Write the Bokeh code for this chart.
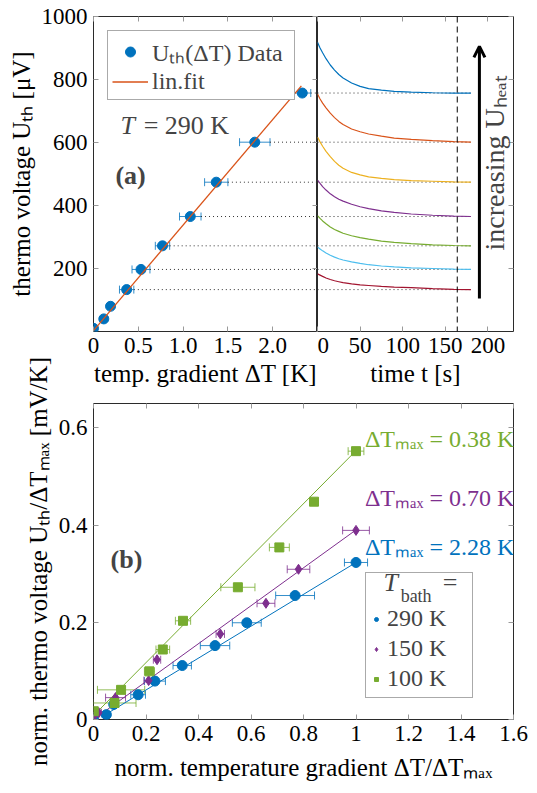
import numpy as np
from bokeh.plotting import figure
from bokeh.models import (ColumnDataSource, Whisker, TeeHead, Legend, LegendItem, Label,
                          Span, Arrow, OpenHead, LinearAxis, FixedTicker, Range1d)
from bokeh.layouts import column, row
from bokeh.embed import file_html
from bokeh.resources import INLINE

FONT = "Liberation Serif"
FS_TICK = "23px"
FS_LAB = "25px"
FS_TXT = "24px"
C_BLUE = "#0072BD"
C_ORANGE = "#D95319"
C_YELLOW = "#EDB120"
C_PURPLE = "#7E2F8E"
C_GREEN = "#77AC30"
C_LBLUE = "#4DBEEE"
C_RED = "#A2142F"
TICK_C = "#9a9a9a"
FRAME_C = "#2b2b2b"

# ---------------- panel (a), left: U_th vs dT ----------------
dT = [0.0, 0.115, 0.19, 0.37, 0.53, 0.77, 1.08, 1.37, 1.80, 2.33]
U = [10, 40, 80, 133, 197, 272, 365, 474, 601, 757]
dT_err = [0.0, 0.0, 0.0, 0.08, 0.10, 0.08, 0.12, 0.13, 0.17, 0.095]
fit_dT = [0.0, 2.32]
fit_U = [3, 780]
a_xticks = [0, 0.5, 1.0, 1.5, 2.0]
a_xlabels = ["0", "0.5", "1.0", "1.5", "2.0"]
a_yticks = [200, 400, 600, 800, 1000]

# ---------------- panel (a), right: U_th vs time ----------------
t_s = [0, 3, 6, 10, 15, 20, 25, 30, 40, 50, 60, 75, 90, 110, 135, 160, 180]
u_blue = [918, 900, 885, 866, 846, 830, 816, 805, 789, 778, 771, 766, 762, 760, 758, 757, 757]
u_orange = [754, 738, 725, 710, 693, 679, 667, 657, 643, 634, 627, 620, 614, 610, 606, 603, 601]
u_yellow = [617, 602, 588, 572, 555, 540, 528, 518, 505, 497, 491, 486, 482, 479, 477, 475, 474]
u_purple = [481, 470, 460, 449, 437, 428, 420, 414, 404, 396, 390, 383, 378, 373, 369, 366, 365]
u_green = [368, 359, 351, 342, 332, 324, 318, 312, 304, 298, 293, 287, 283, 279, 275, 273, 272]
u_lblue = [268, 262, 256, 249, 242, 236, 231, 227, 221, 216, 212, 208, 205, 202, 200, 198, 197]
u_red = [183, 179, 175, 170, 165, 161, 158, 155, 151, 148, 146, 143, 141, 139, 136, 134, 133]
b_xticks = [0, 50, 100, 150, 200]
t_steady = 164

# ---------------- panel (b) ----------------
x290 = [0.0, 0.049, 0.077, 0.17, 0.234, 0.338, 0.463, 0.584, 0.768, 1.0]
y290 = [0.004, 0.010, 0.031, 0.051, 0.079, 0.111, 0.152, 0.199, 0.255, 0.323]
e290 = [0.0, 0.0, 0.0, 0.028, 0.04, 0.035, 0.056, 0.055, 0.074, 0.044]
x150 = [0.0, 0.02, 0.084, 0.21, 0.242, 0.483, 0.657, 0.781, 1.0]
y150 = [0.005, 0.014, 0.045, 0.08, 0.123, 0.176, 0.239, 0.309, 0.389]
e150 = [0.0, 0.01, 0.038, 0.018, 0.014, 0.016, 0.034, 0.043, 0.051]
x100 = [0.001, 0.08, 0.105, 0.213, 0.264, 0.341, 0.55, 0.708, 0.84, 1.0]
y100 = [0.017, 0.034, 0.061, 0.099, 0.144, 0.203, 0.272, 0.354, 0.448, 0.552]
e100 = [0.0, 0.082, 0.09, 0.019, 0.026, 0.029, 0.065, 0.038, 0.015, 0.03]
fit_x290 = [0.03, 1.0]
fit_y290 = [0.005, 0.323]
fit_x150 = [0.0, 1.0]
fit_y150 = [0.0, 0.39]
fit_x100 = [0.0, 1.0]
fit_y100 = [0.008, 0.553]
c_xticks = [0, 0.2, 0.4, 0.6, 0.8, 1.0, 1.2, 1.4, 1.6]
c_xlabels = ["0", "0.2", "0.4", "0.6", "0.8", "1", "1.2", "1.4", "1.6"]
c_yticks = [0, 0.2, 0.4, 0.6]
c_ylabels = ["0", "0.2", "0.4", "0.6"]


def style_axis(ax, ticks, labels=None, label_standoff=4):
    ax.ticker = FixedTicker(ticks=ticks)
    if labels is not None:
        ax.major_label_overrides = {t: l for t, l in zip(ticks, labels)}
    ax.axis_line_color = None
    ax.major_tick_in = 5
    ax.major_tick_out = 0
    ax.major_tick_line_color = TICK_C
    ax.minor_tick_line_color = None
    ax.major_label_text_font = FONT
    ax.major_label_text_font_size = FS_TICK
    ax.major_label_text_color = "black"
    ax.major_label_standoff = 6
    ax.axis_label_text_font = FONT
    ax.axis_label_text_font_size = FS_LAB
    ax.axis_label_text_font_style = "normal"
    ax.axis_label_text_color = "black"
    ax.axis_label_standoff = label_standoff


def mirror_axis(p, ticks, side):
    ax = LinearAxis(ticker=FixedTicker(ticks=ticks), axis_line_color=None,
                    major_tick_in=5, major_tick_out=0, major_tick_line_color=TICK_C,
                    minor_tick_line_color=None, major_label_text_font_size="1px",
                    major_label_text_color=None,
                    major_label_overrides={t: "" for t in ticks},
                    major_label_standoff=0, axis_label=None)
    p.add_layout(ax, side)


def base_style(p):
    p.xgrid.visible = False
    p.ygrid.visible = False
    p.outline_line_color = FRAME_C
    p.outline_line_width = 1
    p.background_fill_color = "white"
    p.border_fill_color = "white"


# ======== figure A ========
pA = figure(width=317, height=400, x_range=Range1d(0, 2.5), y_range=Range1d(0, 1000),
            output_backend="svg", toolbar_location=None,
            min_border_left=93, min_border_right=0, min_border_top=16, min_border_bottom=69)
base_style(pA)
style_axis(pA.xaxis[0], a_xticks, a_xlabels)
style_axis(pA.yaxis[0], a_yticks)
pA.xaxis[0].axis_label = "temp. gradient ΔT [K]"
pA.yaxis[0].axis_label = "thermo voltage Uₜₕ [μV]"
mirror_axis(pA, a_xticks, "above")
mirror_axis(pA, a_yticks, "right")

dT_a = np.array(dT)
U_a = np.array(U)
err_a = np.array(dT_err)
lev_idx = np.arange(3, len(dT))
srcA = ColumnDataSource(dict(x=dT_a, y=U_a))
mask = err_a > 0
srcAe = ColumnDataSource(dict(y=U_a[mask], lo=(dT_a - err_a)[mask], hi=(dT_a + err_a)[mask]))

pA.segment(x0=(dT_a + err_a)[lev_idx], y0=U_a[lev_idx], x1=[2.5] * len(lev_idx), y1=U_a[lev_idx],
           line_color="#333333", line_width=1, line_dash="1 3")

wA = Whisker(source=srcAe, base="y", lower="lo", upper="hi", dimension="width",
             line_color=C_BLUE, line_width=1, line_alpha=0.8,
             upper_head=TeeHead(size=8, line_color=C_BLUE, line_width=1, line_alpha=0.8),
             lower_head=TeeHead(size=8, line_color=C_BLUE, line_width=1, line_alpha=0.8))
wA.level = "underlay"
pA.add_layout(wA)
rA_pts = pA.scatter("x", "y", source=srcA, marker="circle", size=10, fill_color=C_BLUE,
                    line_color=C_BLUE)
rA_fit = pA.line(fit_dT, fit_U, line_color=C_ORANGE, line_width=1.3)

legA = Legend(items=[LegendItem(label="Uₜₕ(ΔT) Data", renderers=[rA_pts]),
                     LegendItem(label="lin.fit", renderers=[rA_fit])],
              location="top_left", margin=14, padding=4, spacing=0,
              glyph_width=36, glyph_height=25, label_height=25, label_width=138,
              label_standoff=4,
              label_text_font=FONT, label_text_font_size=FS_TXT,
              border_line_color="#555555", border_line_width=1,
              background_fill_alpha=1)
pA.add_layout(legA)

pA.add_layout(Label(x=0.30, y=654, text="T", text_font=FONT, text_font_size="26px",
                    text_font_style="italic", text_baseline="alphabetic"))
pA.add_layout(Label(x=0.56, y=654, text="= 290 K", text_font=FONT, text_font_size="26px",
                    text_baseline="alphabetic"))
pA.add_layout(Label(x=0.245, y=495, text="(a)", text_font=FONT, text_font_size="26px",
                    text_font_style="bold", text_baseline="middle"))

# ======== figure B ========
pB = figure(width=220, height=400, x_range=Range1d(0, 230), y_range=Range1d(0, 1000),
            output_backend="svg", toolbar_location=None, y_axis_location=None,
            min_border_left=0, min_border_right=24, min_border_top=16, min_border_bottom=69)
base_style(pB)
style_axis(pB.xaxis[0], b_xticks)
pB.xaxis[0].axis_label = "time t [s]"
mirror_axis(pB, b_xticks, "above")
mirror_axis(pB, a_yticks, "right")

pB.segment(x0=[t_s[0]] * len(lev_idx), y0=U_a[lev_idx], x1=[t_s[-1]] * len(lev_idx),
           y1=U_a[lev_idx], line_color="#333333", line_width=1, line_dash="1 3")
for ys, c in [(u_red, C_RED), (u_lblue, C_LBLUE), (u_green, C_GREEN), (u_purple, C_PURPLE),
              (u_yellow, C_YELLOW), (u_orange, C_ORANGE), (u_blue, C_BLUE)]:
    pB.line(t_s, ys, line_color=c, line_width=1.2)

pB.add_layout(Span(location=t_steady, dimension="height", line_color="black",
                   line_width=1, line_dash="6 4"))
pB.add_layout(Arrow(end=OpenHead(size=11, line_width=3, line_color="black"),
                    x_start=190, y_start=105, x_end=190, y_end=905,
                    line_width=3, line_color="black"))
pB.add_layout(Label(x=208, y=535, angle=np.pi / 2, text="increasing Uₕₑₐₜ",
                    text_font=FONT, text_font_size="28px", text_align="center",
                    text_baseline="middle"))

# ======== figure C ========
pC = figure(width=537, height=458, x_range=Range1d(0, 1.6), y_range=Range1d(0, 0.65),
            output_backend="svg", toolbar_location=None,
            min_border_left=93, min_border_right=24, min_border_top=68, min_border_bottom=74)
base_style(pC)
pC.border_fill_color = None
pC.margin = (-65, 0, 0, 0)
style_axis(pC.xaxis[0], c_xticks, c_xlabels, label_standoff=10)
style_axis(pC.yaxis[0], c_yticks, c_ylabels)
pC.xaxis[0].axis_label = "norm. temperature gradient ΔT/ΔTₘₐₓ"
pC.yaxis[0].axis_label = "norm. thermo voltage Uₜₕ/ΔTₘₐₓ [mV/K]"
mirror_axis(pC, c_xticks, "above")
mirror_axis(pC, c_yticks, "right")

series = [(x290, y290, e290, fit_x290, fit_y290, C_BLUE, "circle", 10, "290 K"),
          (x150, y150, e150, fit_x150, fit_y150, C_PURPLE, "diamond", 10, "150 K"),
          (x100, y100, e100, fit_x100, fit_y100, C_GREEN, "square", 9, "100 K")]
items = []
for xs, ys, es, fx, fy, c, mk, sz, lab in series:
    pC.line(fx, fy, line_color=c, line_width=1)
for xs, ys, es, fx, fy, c, mk, sz, lab in series:
    xa, ya, ea = np.array(xs), np.array(ys), np.array(es)
    m = ea > 0
    src_e = ColumnDataSource(dict(y=ya[m], lo=(xa - ea)[m], hi=(xa + ea)[m]))
    w = Whisker(source=src_e, base="y", lower="lo", upper="hi", dimension="width",
                line_color=c, line_width=1, line_alpha=0.8,
                upper_head=TeeHead(size=8, line_color=c, line_width=1, line_alpha=0.8),
                lower_head=TeeHead(size=8, line_color=c, line_width=1, line_alpha=0.8))
    w.level = "underlay"
    pC.add_layout(w)
for xs, ys, es, fx, fy, c, mk, sz, lab in series:
    r = pC.scatter(xs, ys, marker=mk, size=sz, fill_color=c, line_color=c)
    items.append(LegendItem(label=lab, renderers=[r]))

legC = Legend(items=items, location=(272, 21), padding=5, spacing=3,
              glyph_width=10, glyph_height=26, label_height=26, label_width=80,
              label_standoff=6,
              label_text_font=FONT, label_text_font_size=FS_TXT,
              title="\u00a0", title_text_font=FONT, title_text_font_size=FS_TXT,
              title_standoff=0,
              border_line_color="#555555", border_line_width=1,
              background_fill_color="white", background_fill_alpha=0)
pC.add_layout(legC)
pC.add_layout(Label(x=1.105, y=0.251, text="T", text_font=FONT, text_font_size="26px",
                    text_font_style="italic", level="overlay"))
pC.add_layout(Label(x=1.170, y=0.233, text="bath", text_font=FONT, text_font_size="18px",
                    level="overlay"))
pC.add_layout(Label(x=1.33, y=0.251, text="=", text_font=FONT, text_font_size="26px",
                    level="overlay"))

pC.add_layout(Label(x=1.034, y=0.577, text="ΔTₘₐₓ = 0.38 K", text_font=FONT,
                    text_font_size=FS_TXT, text_color=C_GREEN, text_baseline="middle"))
pC.add_layout(Label(x=1.034, y=0.456, text="ΔTₘₐₓ = 0.70 K", text_font=FONT,
                    text_font_size=FS_TXT, text_color=C_PURPLE, text_baseline="middle"))
pC.add_layout(Label(x=1.034, y=0.355, text="ΔTₘₐₓ = 2.28 K", text_font=FONT,
                    text_font_size=FS_TXT, text_color=C_BLUE, text_baseline="middle"))
pC.add_layout(Label(x=0.065, y=0.33, text="(b)", text_font=FONT, text_font_size="26px",
                    text_font_style="bold", text_baseline="middle"))

layout = column(row(pA, pB, spacing=0), pC, spacing=0)
open("out.html", "w").write(file_html(layout, INLINE))
